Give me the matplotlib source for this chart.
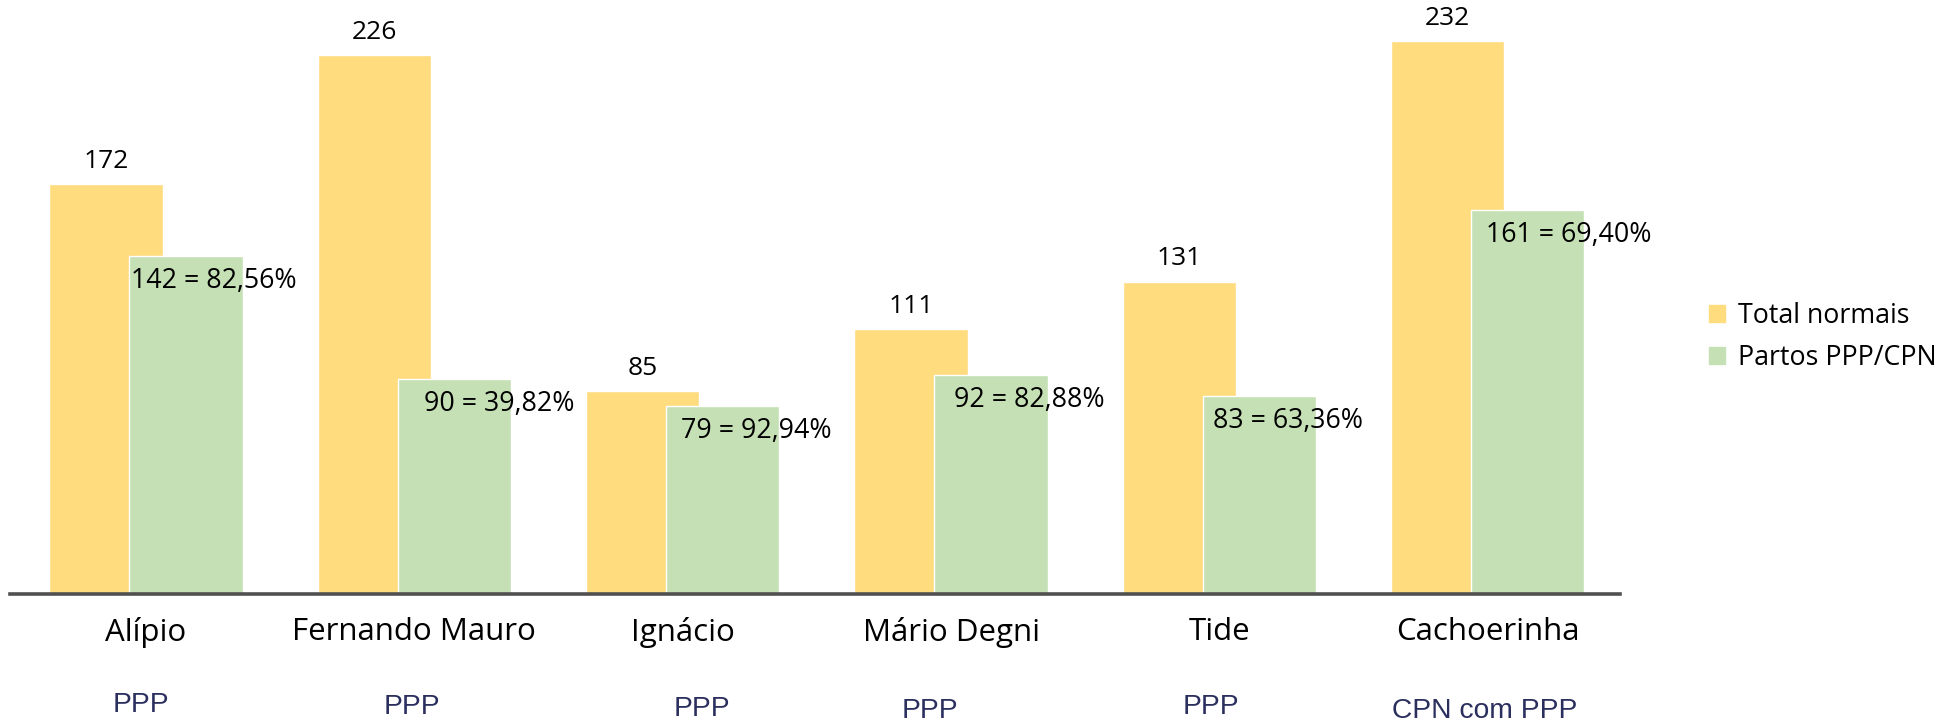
import numpy as np
import matplotlib
matplotlib.use("Agg")
import matplotlib.pyplot as plt
import matplotlib.patches as patches

# data
hospitais = ["Alípio", "Fernando Mauro", "Ignácio", "Mário Degni", "Tide", "Cachoerinha"]
modelo = ["PPP", "PPP", "PPP", "PPP", "PPP", "CPN com PPP"]
total_normais = [172, 226, 85, 111, 131, 232]
partos_ppp = [142, 90, 79, 92, 83, 161]
percentuais = ["82,56%", "39,82%", "92,94%", "82,88%", "63,36%", "69,40%"]

amarelo = "#FFDC7E"
verde = "#C5E0B4"

plt.rcParams["font.family"] = ["Open Sans", "DejaVu Sans"]

fig = plt.figure(figsize=(19.57, 7.25), dpi=100)
ax = fig.add_axes([10 / 1957, 131 / 725, 1610 / 1957, 584 / 725])

x = np.arange(len(hospitais))
w = 0.423
off = 0.149

ax.bar(x - off, total_normais, w, color=amarelo, edgecolor="white", linewidth=1, zorder=2)
ax.bar(x + off, partos_ppp, w, color=verde, edgecolor="white", linewidth=1, zorder=3)

ax.set_xlim(-0.507, 5.493)
ax.set_ylim(0, 245)
for s in ax.spines.values():
    s.set_visible(False)
ax.axhline(0, color="#505050", lw=2.6, zorder=4, clip_on=False)
ax.set_yticks([])
ax.set_xticks([])

# value labels
for xi, v in zip(x, total_normais):
    ax.annotate(str(v), (xi - off, v), xytext=(0, 16.5), textcoords="offset points",
                ha="center", va="center", fontsize=19, color="black")
lab_dx = [2, 26, 15, 20, 10, 15]  # px from left edge of green bar
for xi, v, p, d in zip(x, partos_ppp, percentuais, lab_dx):
    ax.annotate(f"{v} = {p}", (xi + off - w / 2, v), xytext=(d * 0.72, -18), textcoords="offset points",
                ha="left", va="center", fontsize=19.3, color="black", zorder=5)

# category labels and model labels
tr = ax.get_xaxis_transform()
mod_dx = [-0.02, -0.01, 0.07, -0.08, -0.03, -0.01]
mod_y = [705, 707, 709, 711, 707, 711]
for xi, nome, m, dx, yy in zip(x, hospitais, modelo, mod_dx, mod_y):
    ax.text(xi, -(632 - 594) / 584, nome, transform=tr, ha="center", va="center",
            fontsize=22.5, color="black")
    ax.text(xi + dx, -(yy - 594) / 584, m, transform=tr, ha="center", va="center",
            fontsize=20.3, color="#2B2F5E", family="Liberation Sans")

# legend
h1 = patches.Patch(color=amarelo, label="Total normais")
h2 = patches.Patch(color=verde, label="Partos PPP/CPN")
fig.legend(handles=[h1, h2], loc="center left", bbox_to_anchor=(1709 / 1957, 1 - 337 / 725),
           frameon=False, fontsize=19.3, handlelength=0.6, handleheight=0.6,
           handletextpad=0.5, labelspacing=0.52, borderpad=0, borderaxespad=0)

fig.savefig("out.png", dpi=100)
